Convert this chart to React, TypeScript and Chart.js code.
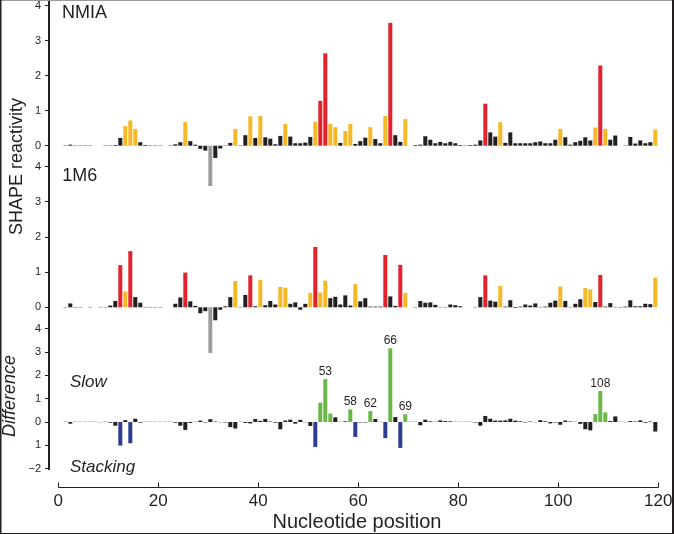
import React, { useEffect, useRef } from 'react';
import { Chart, registerables } from 'chart.js';

Chart.register(...registerables);

// ---------------- data ----------------
// nucleotide positions 1..119
const POSITIONS: number[] = Array.from({ length: 119 }, (_, i) => i + 1);

const NMIA: number[] = [
  0.01, 0.03, 0.01, 0.01, 0.01, 0.01, 0.0, 0.0, 0.01, 0.01,
  0.02, 0.22, 0.56, 0.72, 0.48, 0.10, 0.02, 0.01, 0.01, 0.01,
  0.0, 0.01, 0.04, 0.10, 0.68, 0.13, 0.03, -0.09, -0.14, -1.15,
  -0.35, -0.08, 0.01, 0.08, 0.48, 0.01, 0.30, 0.84, 0.22, 0.85,
  0.24, 0.20, 0.04, 0.28, 0.62, 0.26, 0.07, 0.07, 0.09, 0.25,
  0.68, 1.28, 2.64, 0.62, 0.53, 0.08, 0.42, 0.62, 0.05, 0.13,
  0.23, 0.53, 0.19, 0.07, 0.85, 3.51, 0.30, 0.11, 0.76, 0.0,
  0.02, 0.03, 0.27, 0.17, 0.07, 0.11, 0.07, 0.11, 0.07, 0.02,
  0.01, 0.02, 0.03, 0.15, 1.20, 0.38, 0.26, 0.67, 0.08, 0.38,
  0.07, 0.07, 0.07, 0.07, 0.10, 0.12, 0.07, 0.07, 0.17, 0.48,
  0.24, 0.03, 0.10, 0.14, 0.24, 0.15, 0.52, 2.29, 0.48, 0.17,
  0.29, 0.0, 0.01, 0.25, 0.06, 0.15, 0.07, 0.10, 0.46,
];

const M1M6: number[] = [
  0.01, 0.11, 0.01, 0.01, 0.0, 0.01, 0.0, 0.01, 0.01, 0.05,
  0.18, 1.20, 0.45, 1.60, 0.29, 0.13, 0.01, 0.01, 0.01, 0.01,
  0.0, 0.0, 0.10, 0.28, 0.99, 0.17, 0.04, -0.17, -0.11, -1.30,
  -0.37, -0.07, 0.03, 0.29, 0.75, 0.01, 0.35, 0.91, 0.03, 0.78,
  0.06, 0.18, 0.08, 0.58, 0.56, 0.10, 0.14, -0.07, 0.10, 0.41,
  1.72, 0.42, 0.76, 0.26, 0.30, 0.08, 0.34, 0.05, 0.66, 0.17,
  0.26, 0.02, 0.02, 0.02, 1.49, 0.31, 0.04, 1.21, 0.41, 0.0,
  0.01, 0.18, 0.13, 0.14, 0.07, 0.01, 0.01, 0.08, 0.06, 0.03,
  0.0, 0.0, 0.01, 0.29, 0.91, 0.19, 0.16, 0.61, 0.02, 0.20,
  -0.02, 0.02, 0.08, 0.05, 0.11, 0.01, 0.02, 0.13, 0.19, 0.59,
  0.18, 0.01, 0.10, 0.23, 0.55, 0.51, 0.15, 0.92, 0.02, 0.12,
  0.01, -0.01, 0.02, 0.20, 0.03, 0.03, 0.10, 0.09, 0.84,
];

const DIFF: number[] = [
  0.01, -0.07, 0.01, 0.01, 0.01, 0.01, 0.01, -0.01, 0.01, -0.03,
  -0.16, -1.01, 0.08, -0.91, 0.14, -0.03, 0.01, 0.01, 0.01, 0.01,
  0.01, 0.01, -0.03, -0.16, -0.34, -0.04, 0.01, 0.06, -0.02, 0.12,
  0.02, -0.01, -0.02, -0.22, -0.28, 0.01, -0.04, -0.06, 0.13, 0.05,
  0.13, 0.02, -0.03, -0.31, 0.06, 0.10, -0.07, 0.09, -0.01, -0.17,
  -1.07, 0.83, 1.84, 0.36, 0.20, 0.01, 0.03, 0.54, -0.64, -0.02,
  -0.02, 0.47, 0.13, 0.01, -0.69, 3.16, 0.21, -1.11, 0.33, 0.01,
  0.01, -0.14, 0.10, 0.03, 0.01, 0.07, 0.04, 0.03, 0.01, 0.01,
  0.01, 0.01, -0.02, -0.16, 0.26, 0.14, 0.06, 0.06, 0.07, 0.14,
  0.06, 0.03, -0.02, 0.02, -0.01, 0.08, 0.03, -0.06, -0.02, -0.12,
  0.06, 0.02, 0.01, -0.08, -0.31, -0.36, 0.34, 1.33, 0.41, 0.04,
  0.24, 0.01, -0.01, 0.04, 0.02, 0.07, -0.03, 0.02, -0.41,
];

const LABELED_POSITIONS: number[] = [53, 58, 62, 66, 69, 108];

const X_TICKS: number[] = [0, 20, 40, 60, 80, 100, 120];
const SHAPE_TICKS: number[] = [0, 1, 2, 3, 4];
const SHAPE_TICK_LABELS: string[] = ['0', '1', '2', '3', '4'];
const DIFF_TICKS: number[] = [-2, -1, 0, 1, 2, 3, 4];
const DIFF_TICK_LABELS: string[] = ['\u22122', '1', '0', '1', '2', '3', '4'];

// ---------------- style / layout ----------------
const W = 674;
const H = 534;
const FONT = "'Liberation Sans', Arial, Helvetica, sans-serif";
const INK = '#231f20';
const RED = '#e3222b';
const YELLOW = '#f8b724';
const GRAY = '#9c9c9c';
const GREEN = '#6bb748';
const BLUE = '#2e3d92';

const AXIS_X_PX = 50; // vertical axis line
const AXIS_Y_PX = 488; // horizontal axis line
const PAD_RIGHT = 10;
const X_ZERO_PX = 58.3; // pixel of nucleotide 0
const X_UNIT_PX = 5.0; // pixels per nucleotide
const BAR_SHIFT = 0.4; // bars are edge aligned (width 0.8)

const PANELS: Record<string, { zero: number; unit: number }> = {
  yN: { zero: 145.7, unit: 35.0 },
  yM: { zero: 307.3, unit: 35.1 },
  yD: { zero: 422.0, unit: 23.33 },
};

const shapeColor = (v: number) =>
  v > 0.85 ? RED : v >= 0.4 ? YELLOW : v < -0.7 ? GRAY : INK;
const diffColor = (v: number) => (v > 0.3 ? GREEN : v < -0.5 ? BLUE : INK);

const Y_TICK_ITEMS = [
  ...SHAPE_TICKS.map((v, i) => ({ panel: 'yN', v, label: SHAPE_TICK_LABELS[i] })),
  ...SHAPE_TICKS.map((v, i) => ({ panel: 'yM', v, label: SHAPE_TICK_LABELS[i] })),
  ...DIFF_TICKS.map((v, i) => ({ panel: 'yD', v, label: DIFF_TICK_LABELS[i] })),
];
const tickPixel = (panel: string, v: number) => PANELS[panel].zero - v * PANELS[panel].unit;

function rangesFor(area: { left: number; right: number; top: number; bottom: number }) {
  const xmin = (area.left - X_ZERO_PX) / X_UNIT_PX;
  const xmax = (area.right - X_ZERO_PX) / X_UNIT_PX;
  const r: any = {
    x: { min: xmin, max: xmax },
    xb: { min: xmin - BAR_SHIFT, max: xmax - BAR_SHIFT },
    y: { min: -area.bottom, max: -area.top },
  };
  for (const id of Object.keys(PANELS)) {
    const p = PANELS[id];
    r[id] = { min: (p.zero - area.bottom) / p.unit, max: (p.zero - area.top) / p.unit };
  }
  return r;
}

const decorPlugin = {
  id: 'decor',
  afterDraw(chart: any) {
    const ctx: CanvasRenderingContext2D = chart.ctx;
    const sx = chart.scales.x;
    const sN = chart.scales.yN;
    const sM = chart.scales.yM;
    const sD = chart.scales.yD;
    const area = chart.chartArea;
    ctx.save();

    // vertical axis line, from the top down to the lowest tick
    const lowTick = Math.round(tickPixel('yD', DIFF_TICKS[0])) + 1;
    ctx.fillStyle = INK;
    ctx.fillRect(Math.round(area.left) - 2, 0, 2, lowTick);

    // horizontal axis line with inward ticks
    ctx.strokeStyle = INK;
    ctx.lineWidth = 1;
    const ay = Math.round(area.bottom) - 0.5;
    ctx.beginPath();
    ctx.moveTo(sx.getPixelForValue(X_TICKS[0]), ay);
    ctx.lineTo(sx.getPixelForValue(X_TICKS[X_TICKS.length - 1]), ay);
    for (const t of X_TICKS) {
      const px = Math.round(sx.getPixelForValue(t)) + 0.5;
      ctx.moveTo(px, ay);
      ctx.lineTo(px, ay - 5);
    }
    ctx.stroke();

    // panel labels
    ctx.fillStyle = INK;
    ctx.textBaseline = 'alphabetic';
    ctx.textAlign = 'left';
    ctx.font = `18px ${FONT}`;
    ctx.fillText('NMIA', sx.getPixelForValue(0.74), sN.getPixelForValue(3.64));
    ctx.fillText('1M6', sx.getPixelForValue(0.8), sM.getPixelForValue(3.61));
    ctx.font = `italic 17px ${FONT}`;
    ctx.fillText('Slow', sx.getPixelForValue(2.34), sD.getPixelForValue(1.51));
    ctx.fillText('Stacking', sx.getPixelForValue(2.34), sD.getPixelForValue(-2.16));

    // labels above selected difference bars
    const meta = chart.getDatasetMeta(2);
    ctx.font = `12px ${FONT}`;
    ctx.textAlign = 'center';
    for (const pos of LABELED_POSITIONS) {
      const idx = POSITIONS.indexOf(pos);
      const el = meta.data[idx];
      if (!el) continue;
      ctx.fillText(String(pos), el.x, el.y - 4);
    }

    // rotated axis titles
    ctx.save();
    ctx.translate(22, 166.5);
    ctx.rotate(-Math.PI / 2);
    ctx.font = `18px ${FONT}`;
    ctx.textAlign = 'center';
    ctx.fillText('SHAPE reactivity', 0, 0);
    ctx.restore();
    ctx.save();
    ctx.translate(15, 396);
    ctx.rotate(-Math.PI / 2);
    ctx.font = `italic 18px ${FONT}`;
    ctx.textAlign = 'center';
    ctx.fillText('Difference', 0, 0);
    ctx.restore();

    // picture frame
    ctx.fillStyle = '#9a9a9a';
    ctx.fillRect(0, 0, W, 1);
    ctx.fillStyle = INK;
    ctx.fillRect(0, 0, 1.5, H);
    ctx.fillRect(W - 2, 0, 2, H);
    ctx.fillRect(0, H - 1, W, 1);
    ctx.restore();
  },
};

export default function App() {
  const ref = useRef<HTMLCanvasElement | null>(null);

  useEffect(() => {
    const canvas = ref.current;
    if (!canvas) return;
    const guess = rangesFor({ left: AXIS_X_PX, right: W - PAD_RIGHT, top: 0, bottom: AXIS_Y_PX });
    const hidden = (id: string) => ({
      type: 'linear' as const,
      display: false,
      offset: false,
      min: guess[id].min,
      max: guess[id].max,
    });
    const mk = (vals: number[]) => POSITIONS.map((p, i) => ({ x: p, y: vals[i] }));

    const chart = new Chart(canvas, {
      type: 'bar',
      data: {
        datasets: [
          { label: 'NMIA', data: mk(NMIA), backgroundColor: NMIA.map(shapeColor), xAxisID: 'xb', yAxisID: 'yN' },
          { label: '1M6', data: mk(M1M6), backgroundColor: M1M6.map(shapeColor), xAxisID: 'xb', yAxisID: 'yM' },
          { label: 'Difference', data: mk(DIFF), backgroundColor: DIFF.map(diffColor), xAxisID: 'xb', yAxisID: 'yD' },
        ] as any,
      },
      options: {
        animation: false,
        responsive: false,
        devicePixelRatio: 1,
        events: [],
        layout: { padding: { top: 0, right: PAD_RIGHT, bottom: 0, left: 0 } },
        plugins: { legend: { display: false }, tooltip: { enabled: false } },
        datasets: {
          bar: { grouped: false, barPercentage: 1, categoryPercentage: 0.8, borderWidth: 0 },
        },
        scales: {
          x: {
            type: 'linear',
            position: 'bottom',
            offset: false,
            min: guess.x.min,
            max: guess.x.max,
            afterBuildTicks: (s: any) => {
              s.ticks = X_TICKS.map((v) => ({ value: v }));
            },
            afterFit: (s: any) => {
              s.height = H - AXIS_Y_PX;
              s.paddingLeft = 0;
              s.paddingRight = 0;
            },
            ticks: {
              autoSkip: false,
              maxRotation: 0,
              padding: 3,
              color: INK,
              font: { family: FONT, size: 17 },
              callback: (v: any) => String(v),
            },
            grid: { display: false, drawTicks: false, offset: false },
            border: { display: false },
            title: {
              display: true,
              text: 'Nucleotide position',
              color: INK,
              font: { family: FONT, size: 20 },
              padding: { top: 0, bottom: 0 },
            },
          },
          xb: hidden('xb'),
          y: {
            type: 'linear',
            position: 'left',
            offset: false,
            min: guess.y.min,
            max: guess.y.max,
            afterBuildTicks: (s: any) => {
              s.ticks = Y_TICK_ITEMS.map((t) => ({ value: -tickPixel(t.panel, t.v) }));
            },
            afterFit: (s: any) => {
              s.width = AXIS_X_PX;
              s.paddingTop = 0;
              s.paddingBottom = 0;
            },
            ticks: {
              autoSkip: false,
              padding: 4,
              color: INK,
              font: { family: FONT, size: 11 },
              callback: (_v: any, i: number) => Y_TICK_ITEMS[i].label,
            },
            grid: {
              display: true,
              drawOnChartArea: false,
              drawTicks: true,
              tickLength: 5,
              color: INK,
              lineWidth: 1,
            },
            border: { display: false },
          },
          yN: hidden('yN'),
          yM: hidden('yM'),
          yD: hidden('yD'),
        } as any,
      },
      plugins: [decorPlugin],
    });

    // second pass: align scales with the real chart area
    const real = rangesFor(chart.chartArea);
    const sc: any = (chart as any).config.options.scales;
    for (const id of Object.keys(real)) {
      sc[id].min = real[id].min;
      sc[id].max = real[id].max;
    }
    chart.update();

    return () => chart.destroy();
  }, []);

  return (
    <div style={{ position: 'absolute', left: 0, top: 0, width: W, height: H, background: '#fff' }}>
      <canvas ref={ref} width={W} height={H} style={{ display: 'block', width: W, height: H }} />
    </div>
  );
}
